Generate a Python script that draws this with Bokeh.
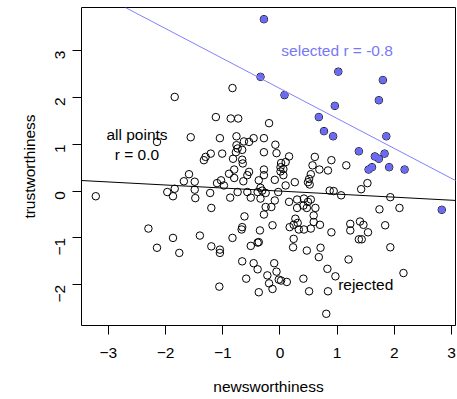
import math
from bokeh.plotting import figure
from bokeh.models import Range1d, FixedTicker, Slope, Label
from bokeh.embed import file_html
from bokeh.resources import INLINE

# ---- data ----
news_rejected = [
    -1.84, -0.83,
    -2.15, -1.56, -3.22, -1.59, -1.68, -1.49, -1.97, -1.84, -1.87, -1.49, -1.48,
    -1.12, -0.86, -0.73, -0.19, -1.05, -0.76, -0.63, -0.46, -0.28, -0.54,
    -0.76, -0.74, -0.77, -0.66, -0.08, -0.28, -0.06, -1.01, -1.21, -1.30,
    -1.33, -0.82, -0.66, -0.65, 0.16, 0.10, 0.02, 0.01, 0.01, 0.06,
    0.61, 0.57, 0.69, 0.54, 0.51, 0.49, 0.52, -0.28, -0.28, -0.80,
    -0.89, -0.80, -0.54, -0.57, -0.64, -0.37, -0.09, 0.06, 0.10, 0.26,
    -1.03, -1.10, -0.98, -1.22, -0.74, -0.57, -0.34, -0.31, -0.39, -0.25,
    -0.03, -0.87, -0.51, -0.34, -0.09, 0.16, 0.30, 0.42, 0.49, 0.54,
    0.41, 0.47, 0.62, 0.30, -0.25, -0.15, -1.20, -0.62, -0.28, 0.59,
    0.90, 0.84, 1.16, 1.53, 1.42, 0.87, 0.94, 1.07, 1.93, 1.74, 2.09,
    -2.30, -2.15, -1.87, -1.76, -1.40,
    -0.66, -0.67, -0.35, -0.13, -0.83, -1.20, -1.05, -1.05, -0.51, -0.39,
    -0.37, 0.17, 0.24, 0.27, 0.31, 0.33, 0.42, 0.54, 0.59, 0.70,
    0.24, 0.23, 0.47, 0.71, 0.68, 0.83, -0.66, -0.46, -0.39, -0.10,
    -0.06, -0.22, -0.02, 0.02, 0.12, -0.19, -0.13, -0.59, -0.37, -1.06,
    0.41, 0.51, 0.84, 0.81,
    0.90, 1.23, 1.23, 1.40, 1.46, 1.54, 1.38, 1.43, 1.84, 1.93, 1.20, 2.16, 0.97,
]
trust_rejected = [
    2.01, 2.20,
    1.05, 1.15, -0.11, 0.36, 0.21, 0.20, -0.02, 0.05, -0.11, 0.03, -0.15,
    1.58, 1.55, 1.55, 1.45, 1.13, 1.17, 1.06, 1.13, 1.13, 1.05,
    0.98, 0.91, 0.83, 0.88, 0.99, 0.83, 0.81, 0.80, 0.80, 0.73,
    0.66, 0.69, 0.67, 0.59, 0.74, 0.62, 0.60, 0.51, 0.42, 0.47,
    0.73, 0.55, 0.46, 0.36, 0.26, 0.19, 0.14, 0.46, 0.34, 0.46,
    0.37, 0.28, 0.41, 0.34, 0.21, 0.23, 0.24, 0.34, 0.12, 0.19,
    0.23, 0.17, 0.12, -0.04, -0.02, -0.02, 0.07, 0.01, -0.02, -0.04,
    -0.02, -0.14, -0.14, -0.16, -0.20, -0.23, -0.18, -0.16, -0.23, -0.18,
    -0.31, -0.36, -0.36, -0.36, -0.34, -0.34, -0.36, -0.54, -0.50, -0.52,
    0.66, 0.44, 0.55, 0.17, 0.04, 0.01, 0.00, -0.09, -0.13, -0.39, -0.36,
    -0.80, -1.21, -1.00, -1.32, -0.95,
    -0.77, -0.82, -0.84, -0.73, -1.00, -1.18, -1.25, -1.32, -1.17, -1.10,
    -1.09, -0.77, -0.72, -0.59, -0.68, -0.82, -0.82, -0.80, -0.66, -0.72,
    -1.02, -1.20, -1.27, -1.21, -1.41, -1.66, -1.50, -1.54, -1.67, -1.54,
    -1.72, -1.80, -1.89, -1.91, -1.94, -1.97, -2.09, -1.87, -2.16, -2.04,
    -1.87, -2.14, -2.14, -2.62,
    -0.88, -0.70, -0.84, -0.65, -0.72, -0.88, -1.03, -1.03, -0.73, -1.20, -1.46, -1.75, -1.82,
]
news_selected = [-0.28, -0.34, 0.08, 1.02, 1.80, 0.96, 1.73, 0.68, 0.77, 0.93,
                 1.86, 1.38, 1.66, 1.73, 1.83, 1.61, 1.55, 1.91, 2.18, 2.83]
trust_selected = [3.67, 2.44, 2.05, 2.55, 2.37, 1.82, 1.94, 1.58, 1.28, 1.17,
                  1.17, 0.85, 0.74, 0.69, 0.80, 0.51, 0.46, 0.51, 0.46, -0.40]

x_ticks = [-3, -2, -1, 0, 1, 2, 3]
y_ticks = [-2, -1, 0, 1, 2, 3]

all_intercept, all_slope = 0.0, -0.065
sel_intercept, sel_slope = 2.19, -0.64

label_all = "all points\nr = 0.0"
label_sel = "selected r = -0.8"
label_rej = "rejected"

FONT = "Liberation Sans"
FS = "15.5px"
BLUE_LINE = "#8080ff"
BLUE_FILL = "#6a6af2"
BLUE_TEXT = "#7878f6"

p = figure(width=457, height=399, output_backend="svg", toolbar_location=None,
           x_range=Range1d(-3.47, 3.07), y_range=Range1d(-2.87, 3.92),
           min_border_left=81, min_border_right=2, min_border_top=7,
           min_border_bottom=74, background_fill_color="white",
           border_fill_color="white")
p.outline_line_color = "black"
p.outline_line_width = 1
p.grid.visible = False

for ax, ticks in ((p.xaxis[0], x_ticks), (p.yaxis[0], y_ticks)):
    ax.ticker = FixedTicker(ticks=ticks)
    ax.axis_line_color = None
    ax.major_tick_line_color = "black"
    ax.major_tick_out = 9
    ax.major_tick_in = 0
    ax.minor_tick_line_color = None
    ax.major_label_text_font = FONT
    ax.major_label_text_font_size = FS
    ax.major_label_text_color = "black"
    ax.axis_label_text_font = FONT
    ax.axis_label_text_font_size = FS
    ax.axis_label_text_font_style = "normal"
    ax.axis_label_text_color = "black"

p.xaxis.axis_label = "newsworthiness"
p.yaxis.axis_label = "trustworthiness"
p.xaxis.major_label_standoff = 13
p.xaxis.axis_label_standoff = 17
p.yaxis.major_label_orientation = math.pi / 2
p.yaxis.major_label_standoff = 12
p.yaxis.axis_label_standoff = 10

# all points as open rings
p.scatter(news_rejected + news_selected, trust_rejected + trust_selected,
          marker="circle", size=7.5, fill_color=None, line_color="black",
          line_width=1)
# selected points filled
p.scatter(news_selected, trust_selected, marker="circle", size=7,
          fill_color=BLUE_FILL, line_color=None)

p.add_layout(Slope(gradient=all_slope, y_intercept=all_intercept,
                   line_color="black", line_width=1))
p.add_layout(Slope(gradient=sel_slope, y_intercept=sel_intercept,
                   line_color=BLUE_LINE, line_width=1))

p.add_layout(Label(x=-2.5, y=1.0, text=label_all, text_align="center",
                   text_baseline="middle", text_font=FONT, text_font_size=FS,
                   text_color="black"))
p.add_layout(Label(x=1.0, y=3.0, text=label_sel, text_align="center",
                   text_baseline="middle", text_font=FONT, text_font_size=FS,
                   text_color=BLUE_TEXT))
p.add_layout(Label(x=1.5, y=-2.0, text=label_rej, text_align="center",
                   text_baseline="middle", text_font=FONT, text_font_size=FS,
                   text_color="black"))

open("out.html", "w").write(file_html(p, INLINE))
